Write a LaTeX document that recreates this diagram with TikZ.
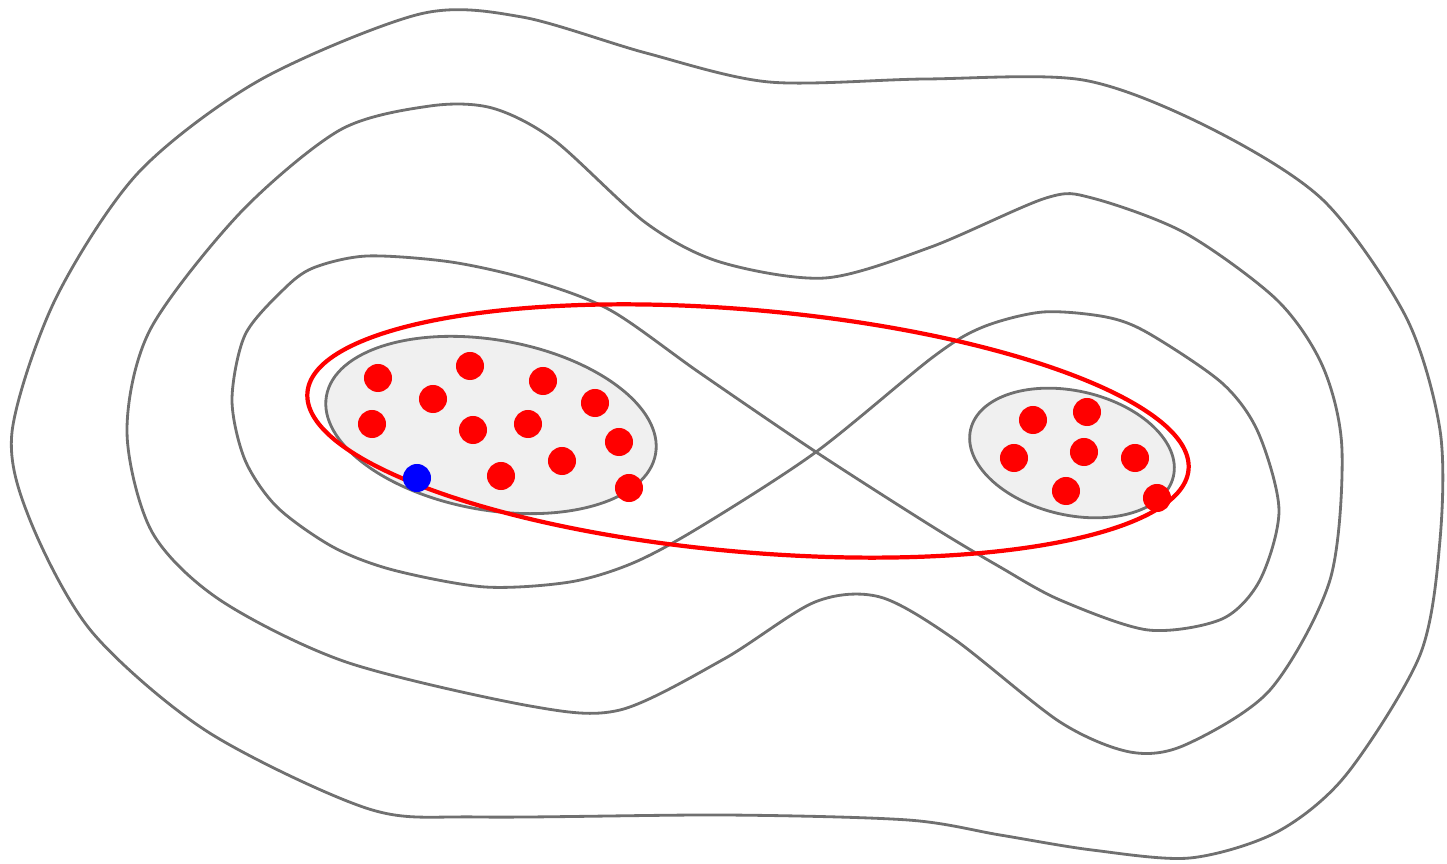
\documentclass[tikz,border=0pt]{standalone}
\usepackage{xcolor}
\definecolor{lvgray}{RGB}{112,112,112}
\definecolor{lvfill}{RGB}{240,240,240}
\definecolor{lvred}{RGB}{255,0,0}
\definecolor{lvblue}{RGB}{0,0,255}
\usepackage{tikz}

\begin{document}
\begin{tikzpicture}[x=0.01cm, y=-0.01cm,
    level/.style={draw=lvgray, line width=0.8pt},
    core/.style={draw=lvgray, fill=lvfill, line width=0.8pt},
    hull/.style={draw=lvred, line width=1.2pt},
    sample/.style={fill=lvred},
    query/.style={fill=lvblue}]

\useasboundingbox (0,0) rectangle (1447,864);

% === Contour levels ===
% outer level
\draw[level] plot[smooth cycle] coordinates {
  (12,432) (55,300) (138,173) (260,80) (420,14) (522,17) (646,53) (769,82)
  (926,79) (1083,80) (1208,127) (1323,200) (1406,317) (1440,430) (1440,540)
  (1420,655) (1346,775) (1277,832) (1190,858) (1092,850) (1000,835)
  (908,820) (724,815) (480,817) (369,809) (208,732) (92,632) (30,520)};

% second level
\draw[level] plot[smooth cycle] coordinates {
  (127,432) (150,330) (240,213) (340,130) (430,106) (492,108) (554,140)
  (646,223) (720,262) (825,278) (931,247) (1046,198) (1092,198) (1185,233)
  (1277,300) (1323,367) (1342,450) (1330,580) (1270,690) (1185,745)
  (1130,752) (1060,722) (954,639) (880,597) (815,602) (724,659) (620,710)
  (530,706) (346,662) (220,600) (152,532)};

% figure-eight level through the saddle
\draw[level] plot[smooth cycle] coordinates {
  (816,452) (700,373) (610,310) (531,280) (451,262) (367,256)
  (313,268) (283,290) (245,335) (232,400) (245,460) (277,507) (333,547)
  (393,570) (485,587) (570,582) (633,563) (700,527)
  (816,452) (933,357) (983,327) (1043,312) (1106,317)
  (1148,333) (1222,383) (1258,432) (1279,510) (1260,580) (1222,619)
  (1148,630) (1060,600) (1000,567) (933,527)};

% === Inner cores ===
\draw[core, rotate around={-10:(491,425)}] (491,425) ellipse (1.67cm and 0.85cm);
\draw[core, rotate around={-13:(1072,453)}] (1072,453) ellipse (1.04cm and 0.62cm);

% === Red hull ===
\draw[hull, rotate around={-5:(748,431)}] (748,431) ellipse (4.42cm and 1.21cm);

% === Samples: left cluster ===
\fill[sample] (378,378) circle (0.14cm);
\fill[sample] (470,366) circle (0.14cm);
\fill[sample] (543,381) circle (0.14cm);
\fill[sample] (595,403) circle (0.14cm);
\fill[sample] (433,399) circle (0.14cm);
\fill[sample] (372,424) circle (0.14cm);
\fill[sample] (473,430) circle (0.14cm);
\fill[sample] (528,424) circle (0.14cm);
\fill[sample] (619,442) circle (0.14cm);
\fill[sample] (562,461) circle (0.14cm);
\fill[sample] (501,476) circle (0.14cm);
\fill[sample] (629,488) circle (0.14cm);

% query point
\fill[query] (417,478) circle (0.14cm);

% === Samples: right cluster ===
\fill[sample] (1033,420) circle (0.14cm);
\fill[sample] (1087,412) circle (0.14cm);
\fill[sample] (1014,458) circle (0.14cm);
\fill[sample] (1084,452) circle (0.14cm);
\fill[sample] (1135,458) circle (0.14cm);
\fill[sample] (1066,491) circle (0.14cm);
\fill[sample] (1157,498) circle (0.14cm);

\end{tikzpicture}
\end{document}
